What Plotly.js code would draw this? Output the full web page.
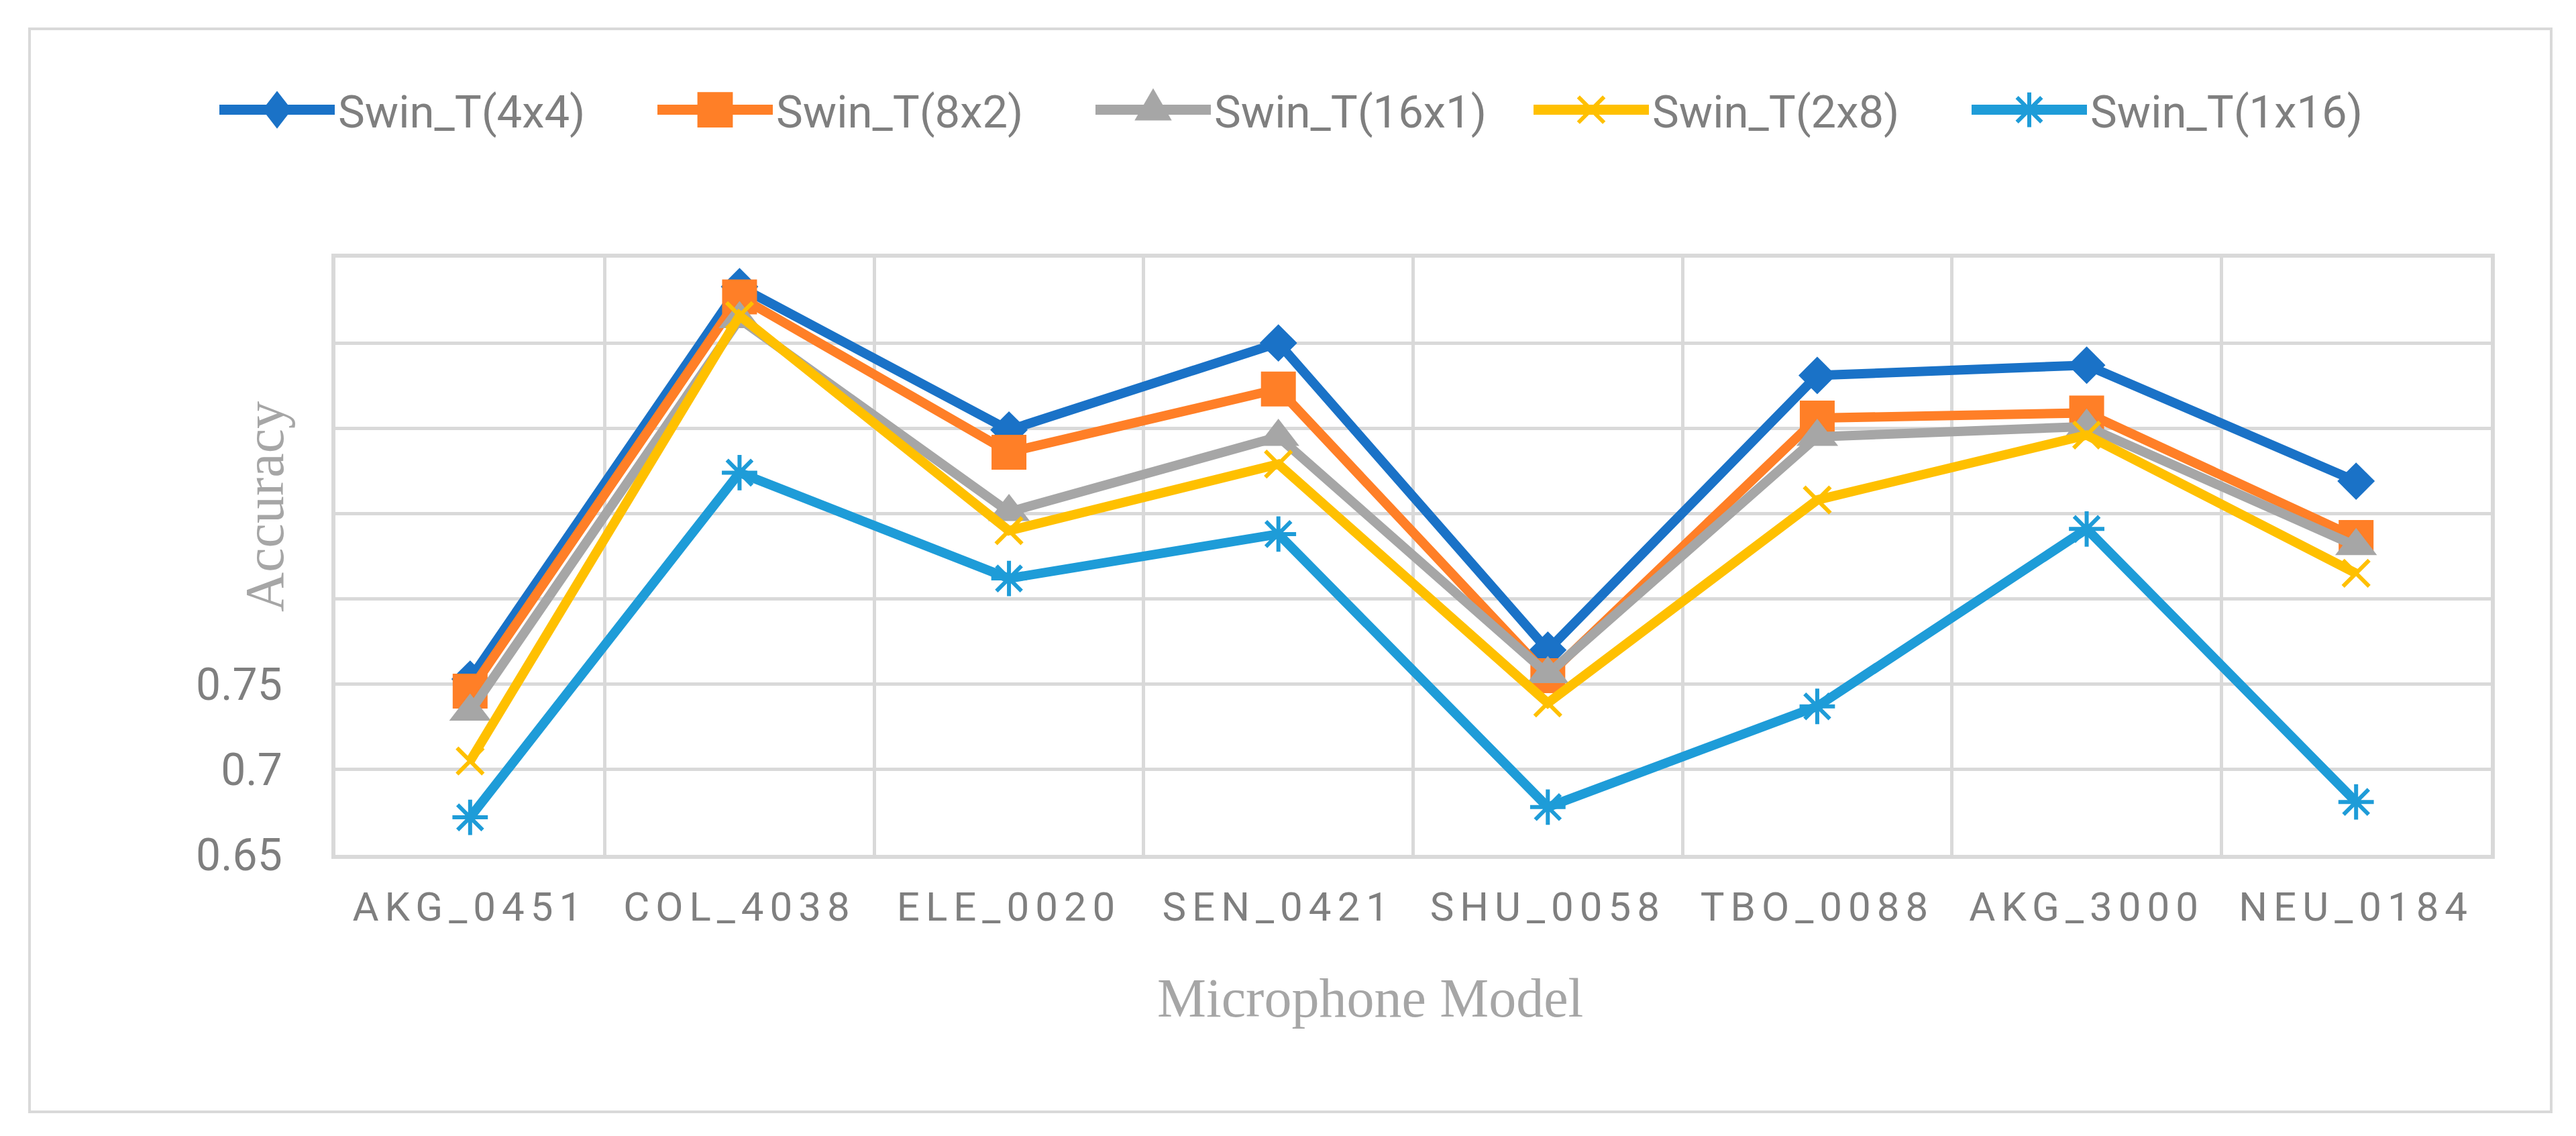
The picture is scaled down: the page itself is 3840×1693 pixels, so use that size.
<!DOCTYPE html>
<html><head><meta charset="utf-8">
<script src="https://cdn.plot.ly/plotly-3.0.1.min.js"></script>
<style>
html,body{margin:0;padding:0;background:#fff;}
#chart{width:3840px;height:1693px;}
.xtick text{letter-spacing:9px;}
</style></head><body><div id="chart"></div>
<script>
const categories = ['AKG_0451','COL_4038','ELE_0020','SEN_0421','SHU_0058','TBO_0088','AKG_3000','NEU_0184'];
const seriesNames = ['Swin_T(4x4)','Swin_T(8x2)','Swin_T(16x1)','Swin_T(2x8)','Swin_T(1x16)'];
const swinT_4x4  = [0.753,0.983,0.899,0.950,0.770,0.931,0.937,0.869];
const swinT_8x2  = [0.746,0.977,0.886,0.923,0.755,0.906,0.909,0.836];
const swinT_16x1 = [0.734,0.964,0.851,0.895,0.756,0.895,0.901,0.831];
const swinT_2x8  = [0.705,0.966,0.840,0.879,0.739,0.858,0.896,0.815];
const swinT_1x16 = [0.672,0.874,0.812,0.838,0.678,0.737,0.841,0.681];
const yTickVals = [0.65,0.7,0.75,0.8,0.85,0.9,0.95,1.0];
const yTickText = ['0.65','0.7','0.75','','','','',''];
const xTitle = 'Microphone Model';
const yTitle = 'Accuracy';

const seriesValues = [swinT_4x4, swinT_8x2, swinT_16x1, swinT_2x8, swinT_1x16];
const colors = ['#1A72C7','#FF7F27','#A6A6A6','#FFC000','#1E9CD8'];
const symbols = ['diamond','square','triangle-up','x-thin-open','asterisk-open'];
const sizes = [43,52,54,39,44];
// legend marker scale factors (x, y)
const legendScale = [[2.1,2.7],[3.3,3.3],[3.0,4.0],[2.4,2.4],[2.7,2.7]];

const traces = seriesValues.map((vals, i) => ({
  type: 'scatter',
  mode: 'lines+markers',
  name: seriesNames[i],
  x: categories,
  y: vals,
  line: {color: colors[i], width: 14},
  marker: {
    symbol: symbols[i],
    size: sizes[i],
    color: colors[i],
    line: {color: colors[i], width: (i >= 3 ? 6 : 0)}
  },
  cliponaxis: false
}));

const W = 3840, H = 1693;
const L = 500, R = 127, T = 384, B = 419;
const pw = W - L - R, ph = H - T - B;
const px = v => (v - L) / pw;
const py = v => (H - B - v) / ph;

const layout = {
  width: W, height: H,
  margin: {l: L, r: R, t: T, b: B},
  paper_bgcolor: '#ffffff',
  plot_bgcolor: '#ffffff',
  showlegend: true,
  legend: {
    orientation: 'h',
    x: px(322), xanchor: 'left',
    y: py(164), yanchor: 'middle',
    font: {family: 'Roboto, sans-serif', size: 67, color: '#7F7F7F'},
    itemwidth: 172,
    entrywidth: 466,
    bgcolor: 'rgba(0,0,0,0)',
    traceorder: 'normal'
  },
  xaxis: {
    type: 'category',
    range: [-0.5, 7.5],
    tickson: 'boundaries',
    showgrid: true, gridcolor: '#D9D9D9', gridwidth: 5,
    showline: true, linecolor: '#D9D9D9', linewidth: 6, mirror: true,
    ticks: '', ticklabelstandoff: 20,
    tickfont: {family: 'Roboto, sans-serif', size: 60, color: '#7F7F7F'},
    zeroline: false, fixedrange: true
  },
  yaxis: {
    range: [0.65, 1.0],
    tickvals: yTickVals, ticktext: yTickText,
    showgrid: true, gridcolor: '#D9D9D9', gridwidth: 5,
    showline: true, linecolor: '#D9D9D9', linewidth: 6, mirror: true,
    ticks: '', ticklabelstandoff: 60,
    tickfont: {family: 'Roboto, sans-serif', size: 66, color: '#7F7F7F'},
    zeroline: false, fixedrange: true
  },
  annotations: [
    {text: yTitle, xref: 'paper', yref: 'paper', x: px(394), y: py(755),
     xanchor: 'center', yanchor: 'middle', textangle: -90, showarrow: false,
     font: {family: '"Liberation Serif", serif', size: 82, color: '#A6A6A6'}},
    {text: xTitle, xref: 'paper', yref: 'paper', x: px(2042), y: py(1487),
     xanchor: 'center', yanchor: 'middle', showarrow: false,
     font: {family: '"Liberation Serif", serif', size: 82, color: '#A6A6A6'}}
  ],
  shapes: [
    {type: 'rect', xref: 'paper', yref: 'paper',
     x0: px(44), x1: px(3803), y0: py(1657), y1: py(43),
     line: {color: '#D9D9D9', width: 4}, fillcolor: 'rgba(0,0,0,0)', layer: 'below'}
  ]
};

function enlargeLegend(gd) {
  gd.querySelectorAll('.legend .traces').forEach((g, i) => {
    g.querySelectorAll('.legendlines path').forEach(p => { p.style.strokeWidth = '15px'; });
    const s = legendScale[i] || [1, 1];
    g.querySelectorAll('.legendpoints path').forEach(p => {
      const t = p.getAttribute('transform') || '';
      p.setAttribute('transform', t + ' scale(' + s[0] + ',' + s[1] + ')');
      if (i >= 3) p.style.strokeWidth = (6 / Math.max(s[0], s[1])) + 'px';
    });
  });
}

Plotly.newPlot('chart', traces, layout, {displayModeBar: false, staticPlot: true})
  .then(gd => enlargeLegend(gd));
</script></body></html>
